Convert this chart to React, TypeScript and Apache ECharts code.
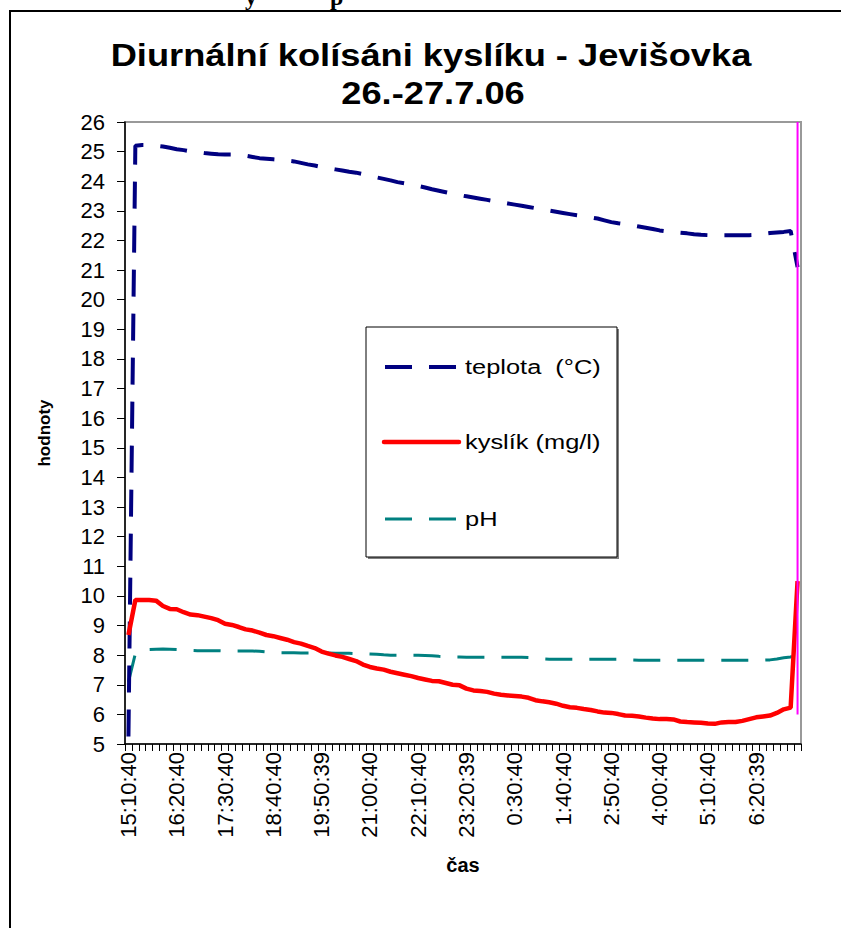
import React, { useEffect, useRef } from "react";
import * as echarts from "echarts";

// Sampling times (every 10 minutes, 26.–27. 7. 2006)
const times: string[] = [
  "15:10:40", "15:20:40", "15:30:40", "15:40:40", "15:50:40", "16:00:40", "16:10:40",
  "16:20:40", "16:30:40", "16:40:40", "16:50:40", "17:00:40", "17:10:40", "17:20:40",
  "17:30:40", "17:40:40", "17:50:40", "18:00:40", "18:10:40", "18:20:40", "18:30:40",
  "18:40:40", "18:50:40", "19:00:40", "19:10:40", "19:20:40", "19:30:40", "19:40:40",
  "19:50:39", "20:00:40", "20:10:40", "20:20:40", "20:30:40", "20:40:40", "20:50:40",
  "21:00:40", "21:10:40", "21:20:40", "21:30:40", "21:40:40", "21:50:40", "22:00:40",
  "22:10:40", "22:20:40", "22:30:40", "22:40:40", "22:50:40", "23:00:40", "23:10:40",
  "23:20:39", "23:30:40", "23:40:40", "23:50:40", "0:00:40", "0:10:40", "0:20:40",
  "0:30:40", "0:40:40", "0:50:40", "1:00:40", "1:10:40", "1:20:40", "1:30:40",
  "1:40:40", "1:50:40", "2:00:40", "2:10:40", "2:20:40", "2:30:40", "2:40:40",
  "2:50:40", "3:00:40", "3:10:40", "3:20:40", "3:30:40", "3:40:40", "3:50:40",
  "4:00:40", "4:10:40", "4:20:40", "4:30:40", "4:40:40", "4:50:40", "5:00:40",
  "5:10:40", "5:20:40", "5:30:40", "5:40:40", "5:50:40", "6:00:40", "6:10:40",
  "6:20:39", "6:30:40", "6:40:40", "6:50:40", "7:00:40", "7:10:40", "7:20:40",
];

// teplota (°C)
const teplota: number[] = [
  5.25, 25.2, 25.22, 25.22, 25.2, 25.17, 25.13, 25.08, 25.05, 25.01,
  24.98, 24.95, 24.93, 24.91, 24.9, 24.9, 24.89, 24.86, 24.82, 24.78,
  24.76, 24.74, 24.72, 24.7, 24.67, 24.62, 24.57, 24.53, 24.48, 24.44,
  24.4, 24.36, 24.32, 24.29, 24.24, 24.18, 24.13, 24.08, 24.03, 23.97,
  23.93, 23.89, 23.84, 23.79, 23.73, 23.68, 23.63, 23.58, 23.53, 23.49,
  23.45, 23.41, 23.37, 23.33, 23.29, 23.25, 23.21, 23.17, 23.13, 23.09,
  23.05, 23.01, 22.97, 22.93, 22.89, 22.85, 22.82, 22.78, 22.74, 22.68,
  22.62, 22.58, 22.55, 22.51, 22.47, 22.43, 22.39, 22.34, 22.31, 22.28,
  22.26, 22.24, 22.21, 22.19, 22.18, 22.18, 22.18, 22.18, 22.18, 22.18,
  22.18, 22.19, 22.22, 22.25, 22.27, 22.29, 22.32, 21.1,
];

// kyslík (mg/l)
const kyslik: number[] = [
  8.68, 9.86, 9.86, 9.86, 9.84, 9.66, 9.56, 9.55, 9.45, 9.37,
  9.35, 9.3, 9.25, 9.18, 9.06, 9.02, 8.95, 8.87, 8.83, 8.76,
  8.68, 8.64, 8.58, 8.52, 8.44, 8.39, 8.31, 8.24, 8.12, 8.05,
  7.99, 7.94, 7.87, 7.8, 7.68, 7.6, 7.55, 7.51, 7.44, 7.39,
  7.34, 7.29, 7.23, 7.18, 7.13, 7.12, 7.06, 7.0, 6.98, 6.87,
  6.81, 6.79, 6.76, 6.7, 6.66, 6.64, 6.62, 6.6, 6.56, 6.48,
  6.44, 6.41, 6.36, 6.29, 6.24, 6.22, 6.18, 6.15, 6.1, 6.06,
  6.05, 6.01, 5.96, 5.95, 5.93, 5.89, 5.86, 5.84, 5.84, 5.83,
  5.76, 5.74, 5.73, 5.72, 5.69, 5.68, 5.73, 5.74, 5.74, 5.78,
  5.84, 5.9, 5.93, 5.96, 6.05, 6.17, 6.23, 10.5,
];

// pH
const ph: number[] = [
  7.1, 8.05, 8.15, 8.19, 8.2, 8.21, 8.2, 8.19, 8.17, 8.16,
  8.15, 8.15, 8.15, 8.15, 8.14, 8.14, 8.14, 8.14, 8.14, 8.13,
  8.11, 8.09, 8.08, 8.08, 8.08, 8.07, 8.07, 8.07, 8.07, 8.07,
  8.06, 8.06, 8.06, 8.05, 8.05, 8.04, 8.03, 8.01, 8.0, 8.0,
  8.0, 8.0, 8.0, 7.99, 7.98, 7.96, 7.95, 7.94, 7.94, 7.93,
  7.93, 7.93, 7.93, 7.93, 7.93, 7.93, 7.93, 7.93, 7.92, 7.89,
  7.87, 7.86, 7.86, 7.86, 7.86, 7.86, 7.86, 7.86, 7.86, 7.86,
  7.86, 7.86, 7.85, 7.84, 7.83, 7.83, 7.83, 7.83, 7.83, 7.83,
  7.83, 7.83, 7.83, 7.83, 7.83, 7.83, 7.83, 7.83, 7.83, 7.83,
  7.83, 7.83, 7.83, 7.84, 7.87, 7.91, 7.94, 8.03,
];

// vertical marker at the end of the measurement
const markerIndex = 97;
const markerRange: number[] = [6, 26];

const seriesNames = ["teplota  (°C)", "kyslík (mg/l)", "pH"];
const seriesColors = ["#000080", "#ff0000", "#008080"];
const seriesWidths = [4, 4.5, 3];
const DASH = [27, 17];
const seriesDash: (number[] | null)[] = [DASH, null, DASH];

const yMin = 5;
const yMax = 26;

const SANS = "'Liberation Sans', Arial, Helvetica, sans-serif";
const SERIF = "'Liberation Serif', 'Times New Roman', serif";

// hand-placed legend box (line samples + labels)
function legendGraphics() {
  const boxX = 366;
  const boxY = 327;
  const rows = [367, 442, 519];
  const items: any[] = [
    {
      type: "rect",
      z: 2,
      shape: { x: boxX + 2, y: boxY + 2, width: 251, height: 230 },
      style: { fill: "#808080" },
    },
    {
      type: "rect",
      z: 3,
      shape: { x: boxX, y: boxY, width: 251, height: 230 },
      style: { fill: "#ffffff", stroke: "#000", lineWidth: 1 },
    },
  ];
  seriesNames.forEach((name, k) => {
    const y = rows[k];
    const dash = seriesDash[k];
    items.push({
      type: "line",
      z: 4,
      shape: { x1: dash ? 385 : 384, y1: y, x2: dash ? 457 : 459, y2: y },
      style: {
        stroke: seriesColors[k],
        lineWidth: seriesWidths[k],
        lineDash: dash || undefined,
        lineCap: dash ? "butt" : "round",
      },
    });
    items.push({
      type: "text",
      z: 4,
      x: 465,
      y,
      scaleX: 1.27,
      style: {
        text: name,
        fontFamily: SANS,
        fontSize: 20,
        fill: "#000",
        textAlign: "left",
        textVerticalAlign: "middle",
        verticalAlign: "middle",
      },
    });
  });
  return items;
}

export default function App() {
  const ref = useRef<HTMLDivElement>(null);

  useEffect(() => {
    if (!ref.current) return;
    const chart = echarts.init(ref.current, undefined, { renderer: "svg" });

    chart.setOption({
      animation: false,
      backgroundColor: "#ffffff",
      textStyle: { fontFamily: SANS, color: "#000" },
      grid: {
        left: 125,
        right: 40,
        top: 122,
        bottom: 184,
        show: true,
        borderColor: "#999999",
        borderWidth: 2,
        backgroundColor: "transparent",
      },
      graphic: [
        // page frame
        {
          type: "line",
          shape: { x1: 10, y1: 11, x2: 841, y2: 11 },
          style: { stroke: "#000", lineWidth: 2 },
        },
        {
          type: "line",
          shape: { x1: 10, y1: 10, x2: 10, y2: 928 },
          style: { stroke: "#000", lineWidth: 2 },
        },
        // tail of the document line above the chart
        {
          type: "text",
          x: 245,
          y: -15,
          style: {
            text: "y",
            fontFamily: SERIF,
            fontWeight: "bold",
            fontSize: 24,
            fill: "#000",
            verticalAlign: "top",
          },
        },
        {
          type: "text",
          x: 330,
          y: -15,
          style: {
            text: "p",
            fontFamily: SERIF,
            fontWeight: "bold",
            fontSize: 24,
            fill: "#000",
            verticalAlign: "top",
          },
        },
        // chart title
        {
          type: "text",
          x: 431,
          y: 55,
          scaleX: 1.17,
          style: {
            text: "Diurnální kolísáni kyslíku - Jevišovka",
            fontFamily: SANS,
            fontSize: 31,
            fontWeight: "bold",
            fill: "#000",
            textAlign: "center",
            textVerticalAlign: "middle",
            verticalAlign: "middle",
          },
        },
        {
          type: "text",
          x: 433,
          y: 93,
          scaleX: 1.17,
          style: {
            text: "26.-27.7.06",
            fontFamily: SANS,
            fontSize: 31,
            fontWeight: "bold",
            fill: "#000",
            textAlign: "center",
            textVerticalAlign: "middle",
            verticalAlign: "middle",
          },
        },
        ...legendGraphics(),
      ],
      xAxis: {
        type: "category",
        data: times,
        boundaryGap: true,
        name: "čas",
        nameLocation: "middle",
        nameGap: 111,
        nameTextStyle: { fontFamily: SANS, fontSize: 20, fontWeight: "bold", color: "#000" },
        axisLine: { show: true, lineStyle: { color: "#000", width: 1.5 } },
        axisTick: { show: true, interval: 0, length: 7, lineStyle: { color: "#000", width: 1 } },
        axisLabel: {
          interval: 6,
          rotate: 90,
          margin: 8,
          fontFamily: SANS,
          fontSize: 22,
          color: "#000",
        },
        splitLine: { show: false },
      },
      yAxis: {
        type: "value",
        min: yMin,
        max: yMax,
        interval: 1,
        name: "hodnoty",
        nameLocation: "middle",
        nameGap: 72,
        nameTextStyle: { fontFamily: SANS, fontSize: 17, fontWeight: "bold", color: "#000" },
        axisLine: { show: true, lineStyle: { color: "#000", width: 1.5 } },
        axisTick: { show: true, length: 8, lineStyle: { color: "#000", width: 1 } },
        axisLabel: { margin: 20, fontFamily: SANS, fontSize: 22, color: "#000" },
        splitLine: { show: false },
      },
      series: [
        {
          name: seriesNames[0],
          type: "line",
          data: teplota,
          symbol: "none",
          itemStyle: { color: seriesColors[0] },
          lineStyle: { color: seriesColors[0], width: seriesWidths[0], type: DASH },
          z: 3,
        },
        {
          name: seriesNames[1],
          type: "line",
          data: kyslik,
          symbol: "none",
          itemStyle: { color: seriesColors[1] },
          lineStyle: { color: seriesColors[1], width: seriesWidths[1], type: "solid" },
          z: 4,
        },
        {
          name: seriesNames[2],
          type: "line",
          data: ph,
          symbol: "none",
          itemStyle: { color: seriesColors[2] },
          lineStyle: { color: seriesColors[2], width: seriesWidths[2], type: DASH },
          z: 2,
        },
        {
          name: "marker",
          type: "line",
          data: markerRange.map((v) => [markerIndex, v]),
          symbol: "none",
          silent: true,
          itemStyle: { color: "#ff00ff" },
          lineStyle: { color: "#ff00ff", width: 2 },
          z: 5,
        },
      ],
    });

    return () => chart.dispose();
  }, []);

  return (
    <div
      ref={ref}
      style={{ position: "absolute", left: 0, top: 0, width: 841, height: 928 }}
    />
  );
}
